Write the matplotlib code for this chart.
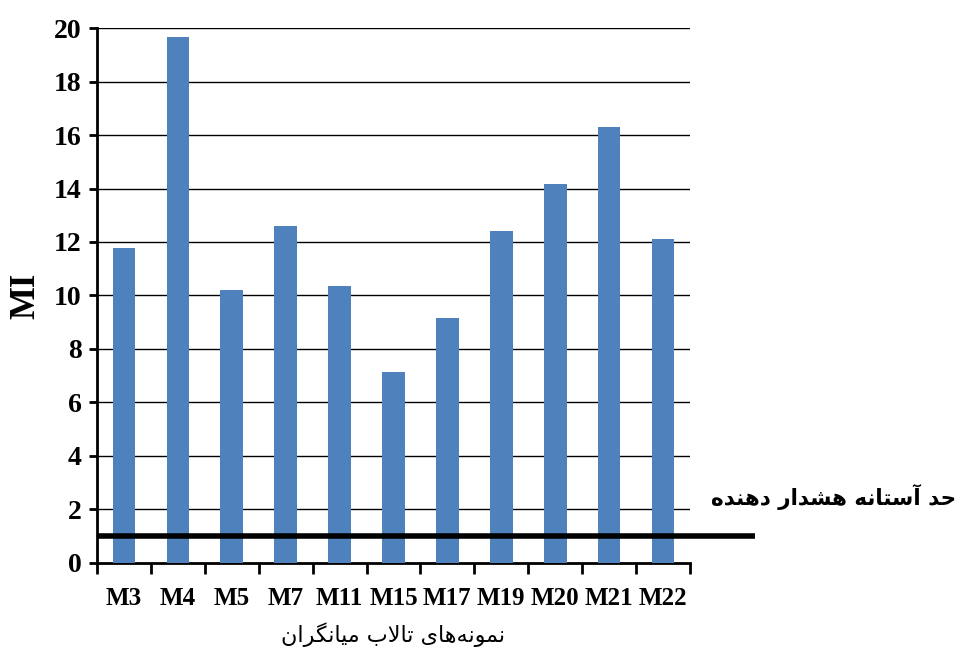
import matplotlib
matplotlib.use("Agg")
import matplotlib.pyplot as plt

# Mean MI per sampling station
stations = ["M3", "M4", "M5", "M7", "M11", "M15", "M17", "M19", "M20", "M21", "M22"]
mi_values = [11.78, 19.66, 10.2, 12.6, 10.35, 7.14, 9.16, 12.41, 14.17, 16.3, 12.11]
threshold = 1.0
y_ticks = [0, 2, 4, 6, 8, 10, 12, 14, 16, 18, 20]

xlabel_text = "نمونه\u200cهای تالاب میانگران"
threshold_text = "حد آستانه هشدار دهنده"

# Arabic contextual forms: (isolated, final, initial, medial)
FORMS = {
    "\u062D": (0xFEA1, 0xFEA2, 0xFEA3, 0xFEA4),
    "\u062F": (0xFEA9, 0xFEAA, None, None),
    "\u0622": (0xFE81, 0xFE82, None, None),
    "\u0627": (0xFE8D, 0xFE8E, None, None),
    "\u0633": (0xFEB1, 0xFEB2, 0xFEB3, 0xFEB4),
    "\u062A": (0xFE95, 0xFE96, 0xFE97, 0xFE98),
    "\u0646": (0xFEE5, 0xFEE6, 0xFEE7, 0xFEE8),
    "\u0647": (0xFEE9, 0xFEEA, 0xFEEB, 0xFEEC),
    "\u0634": (0xFEB5, 0xFEB6, 0xFEB7, 0xFEB8),
    "\u0631": (0xFEAD, 0xFEAE, None, None),
    "\u0645": (0xFEE1, 0xFEE2, 0xFEE3, 0xFEE4),
    "\u0648": (0xFEED, 0xFEEE, None, None),
    "\u06CC": (0xFBFC, 0xFBFD, 0xFBFE, 0xFBFF),
    "\u0644": (0xFEDD, 0xFEDE, 0xFEDF, 0xFEE0),
    "\u0628": (0xFE8F, 0xFE90, 0xFE91, 0xFE92),
    "\u06AF": (0xFB92, 0xFB93, 0xFB94, 0xFB95),
}
LAM_ALEF = {"\u0627": (0xFEFB, 0xFEFC), "\u0622": (0xFEF5, 0xFEF6)}


def joins_next(c):
    return c in FORMS and FORMS[c][2] is not None


def shape_rtl(text):
    """Pick contextual glyph forms and return the string in visual order."""
    chars = list(text)
    n = len(chars)
    out = []
    i = 0
    while i < n:
        c = chars[i]
        if c not in FORMS:
            if c != "\u200c":
                out.append(c)
            i += 1
            continue
        prev = chars[i - 1] if i > 0 else None
        conn_prev = prev is not None and joins_next(prev)
        if c == "\u0644" and i + 1 < n and chars[i + 1] in LAM_ALEF:
            lig = LAM_ALEF[chars[i + 1]]
            out.append(chr(lig[1] if conn_prev else lig[0]))
            i += 2
            continue
        nxt = chars[i + 1] if i + 1 < n else None
        conn_next = joins_next(c) and nxt is not None and nxt in FORMS
        iso, fin, ini, med = FORMS[c]
        if conn_prev and conn_next:
            code = med
        elif conn_prev:
            code = fin
        elif conn_next:
            code = ini
        else:
            code = iso
        out.append(chr(code))
        i += 1
    return "".join(reversed(out))


plt.rcParams["font.family"] = ["Liberation Serif", "DejaVu Sans"]
bar_color = "#4F81BD"

fig = plt.figure(figsize=(9.63, 6.59), dpi=100)
ax = fig.add_axes([0.1007, 0.1457, 0.6158, 0.8118])

x = list(range(len(stations)))
ax.bar(x, mi_values, width=0.42, color=bar_color, zorder=3)

ax.set_xlim(-0.5, len(stations) - 0.5)
ax.set_ylim(0, 20)
ax.set_yticks(y_ticks)
ax.set_xticks([i - 0.5 for i in range(len(stations) + 1)], minor=False)
ax.set_xticklabels([])
ax.set_xticks(x, minor=True)
ax.set_xticklabels(stations, minor=True)

for yv in y_ticks[1:]:
    ax.axhline(yv, color="black", lw=1.0, zorder=1)

# warning threshold line, extending past the plot area
ax.plot([0, 1.11], [threshold, threshold], color="black", lw=4,
        transform=ax.get_yaxis_transform(), clip_on=False, zorder=4,
        solid_capstyle="butt")
ax.text(1.036, 2.45, shape_rtl(threshold_text), transform=ax.get_yaxis_transform(),
        ha="left", va="center", fontsize=15.5, fontweight="bold",
        family=["DejaVu Sans"])

for side in ("top", "right"):
    ax.spines[side].set_visible(False)
for side in ("left", "bottom"):
    ax.spines[side].set_linewidth(2)
    ax.spines[side].set_color("black")

ax.tick_params(axis="y", which="major", direction="out", length=6, width=2,
               labelsize=20, pad=5)
ax.tick_params(axis="x", which="major", direction="out", length=8, width=2)
ax.tick_params(axis="x", which="minor", length=0, labelsize=18, pad=17)
for lab in ax.get_yticklabels() + ax.get_xticklabels(minor=True):
    lab.set_fontweight("bold")

ax.set_ylabel("MI", fontsize=25, fontweight="bold", labelpad=8)
ax.set_xlabel(shape_rtl(xlabel_text), fontsize=16, family=["DejaVu Sans"], labelpad=9)

fig.savefig("out.png", dpi=100)
